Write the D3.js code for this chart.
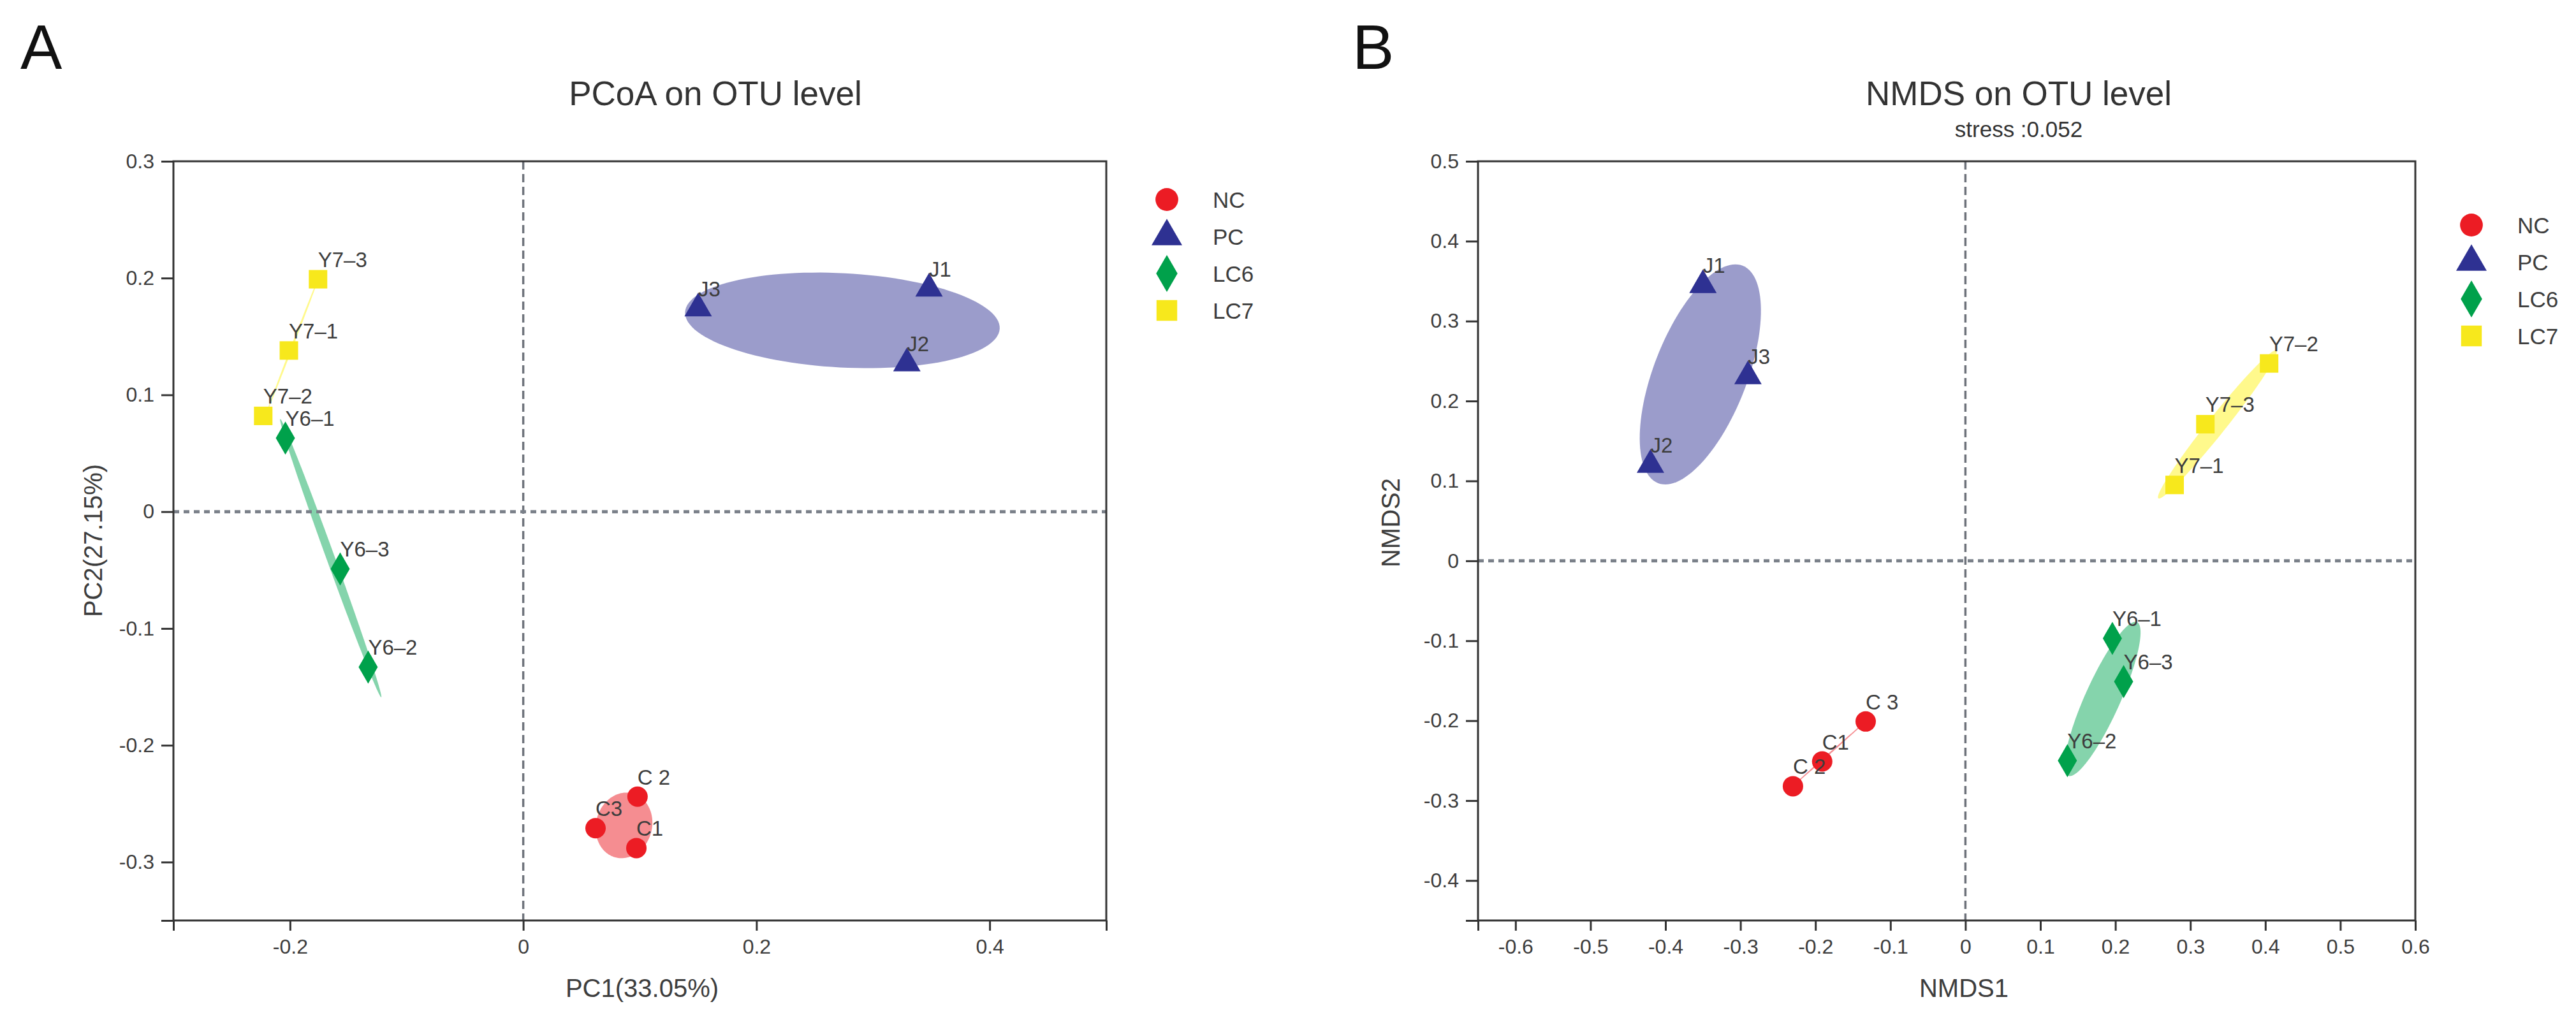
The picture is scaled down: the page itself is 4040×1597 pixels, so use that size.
<!DOCTYPE html>
<html lang="en">
<head>
  <meta charset="UTF-8">
  <title>PCoA and NMDS on OTU level</title>
  <script src="https://d3js.org/d3.v7.min.js"></script>
  <style type="text/css">
    body {
      margin: 0;
      background: white;
    }

    svg {
      display: block;
      font-family: "Liberation Sans", Arial, sans-serif;
    }
  </style>
</head>
<body>
  <script type="text/javascript">
    // Groups and sample order (same order in both panels)
    const groups = ["NC", "PC", "LC6", "LC7"];
    const sampleGroup = ["NC", "NC", "NC", "PC", "PC", "PC", "LC6", "LC6", "LC6", "LC7", "LC7", "LC7"];

    // Panel A - PCoA
    const pcoaLabels = ["C1", "C 2", "C3", "J1", "J2", "J3", "Y6–1", "Y6–2", "Y6–3", "Y7–1", "Y7–2", "Y7–3"];
    const pcoaPC1 = [0.097, 0.098, 0.062, 0.348, 0.329, 0.150, -0.204, -0.133, -0.157, -0.201, -0.223, -0.176];
    const pcoaPC2 = [-0.288, -0.244, -0.271, 0.191, 0.127, 0.174, 0.063, -0.133, -0.049, 0.138, 0.082, 0.199];
    const pcoaXTicks = [-0.2, 0, 0.2, 0.4];
    const pcoaYTicks = [0.3, 0.2, 0.1, 0, -0.1, -0.2, -0.3];
    // confidence ellipses: centre + two semi-axis vectors (data units)
    const pcoaEllipses = [
      { group: "NC", cx: 0.0864, cy: -0.2686, ux: 0.0074, uy: 0.0274, vx: 0.0232, vy: -0.0062 },
      { group: "PC", cx: 0.2737, cy: 0.1638, ux: 0.1349, uy: -0.0071, vx: -0.0021, vy: -0.0403 },
      { group: "LC6", cx: -0.1651, cy: -0.0398, ux: 0.0433, uy: -0.1191, vx: 0.0034, vy: 0.0012 },
      { group: "LC7", cx: -0.1974, cy: 0.1436, ux: 0.0230, uy: 0.0595, vx: 0.0008, vy: -0.0003 }
    ];

    // Panel B - NMDS
    const nmdsLabels = ["C1", "C 2", "C 3", "J1", "J2", "J3", "Y6–1", "Y6–2", "Y6–3", "Y7–1", "Y7–2", "Y7–3"];
    const nmds1 = [-0.191, -0.230, -0.133, -0.350, -0.420, -0.290, 0.196, 0.136, 0.211, 0.279, 0.405, 0.320];
    const nmds2 = [-0.251, -0.282, -0.201, 0.345, 0.120, 0.231, -0.097, -0.250, -0.151, 0.095, 0.247, 0.171];
    const nmdsXTicks = [-0.6, -0.5, -0.4, -0.3, -0.2, -0.1, 0, 0.1, 0.2, 0.3, 0.4, 0.5, 0.6];
    const nmdsYTicks = [0.5, 0.4, 0.3, 0.2, 0.1, 0, -0.1, -0.2, -0.3, -0.4];
    const nmdsEllipses = [
      { group: "NC", cx: -0.1815, cy: -0.2413, ux: 0.0485, uy: 0.0403, vx: 0.0007, vy: -0.0007 },
      { group: "PC", cx: -0.3535, cy: 0.2333, ux: 0.0563, uy: 0.1361, vx: 0.0580, vy: -0.0211 },
      { group: "LC6", cx: 0.1829, cy: -0.1728, ux: 0.0459, uy: 0.0961, vx: 0.0215, vy: -0.0090 },
      { group: "LC7", cx: 0.3360, cy: 0.1707, ux: 0.0787, uy: 0.0925, vx: 0.0093, vy: -0.0070 }
    ];
    const nmdsStress = 0.052;

    // Styles
    const pointColor = { NC: "#ec1c24", PC: "#2e3192", LC6: "#00a14b", LC7: "#f7e81c" };
    const ellipseColor = { NC: "#ec1c24", PC: "#2e3192", LC6: "#00a651", LC7: "#fff200" };
    const ellipseOpacity = { NC: 0.5, PC: 0.48, LC6: 0.48, LC7: 0.45 };
    const symbolType = { NC: d3.symbolCircle, PC: d3.symbolTriangle, LC6: d3.symbolDiamond, LC7: d3.symbolSquare };
    const symbolSize = { NC: 804, PC: 800, LC6: 780, LC7: 841 };
    const textColor = "#3d3d3d";
    const axisColor = "#333";

    let svg = d3.select("body").append("svg")
      .attr("width", 4040)
      .attr("height", 1597);

    let tickFmt = d => String(+d.toFixed(2));

    function ellipsePoints(e) {
      return d3.range(0, 361, 3).map(a => {
        let t = a * Math.PI / 180;
        return [e.cx + e.ux * Math.cos(t) + e.vx * Math.sin(t),
                e.cy + e.uy * Math.cos(t) + e.vy * Math.sin(t)];
      });
    }

    function drawPanel(p) {
      let x = d3.scaleLinear().domain(p.xDomain).range([p.left, p.right]);
      let y = d3.scaleLinear().domain(p.yDomain).range([p.bottom, p.top]);
      let g = svg.append("g");

      // ellipses
      let line = d3.line().x(d => x(d[0])).y(d => y(d[1])).curve(d3.curveLinearClosed);
      g.append("g")
        .selectAll("path")
        .data(p.ellipses)
        .enter()
        .append("path")
        .attr("d", e => line(ellipsePoints(e)))
        .attr("fill", e => ellipseColor[e.group])
        .attr("fill-opacity", e => ellipseOpacity[e.group])
        .attr("stroke", "none");

      // zero lines
      g.append("line")
        .attr("x1", x(0)).attr("x2", x(0))
        .attr("y1", p.top).attr("y2", p.bottom)
        .attr("stroke", "#6e737b")
        .attr("stroke-width", 3.5)
        .attr("stroke-dasharray", "13,7");
      g.append("line")
        .attr("x1", p.left).attr("x2", p.right)
        .attr("y1", y(0)).attr("y2", y(0))
        .attr("stroke", "#7a8089")
        .attr("stroke-width", 5)
        .attr("stroke-dasharray", "9,7");

      // axes
      let gx = g.append("g")
        .attr("transform", "translate(0," + p.bottom + ")")
        .call(d3.axisBottom(x).tickValues(p.xTicks).tickSize(16).tickPadding(13).tickFormat(tickFmt));
      let gxEnds = g.append("g")
        .attr("transform", "translate(0," + p.bottom + ")")
        .call(d3.axisBottom(x).tickValues(p.xDomain).tickSize(16).tickFormat(() => ""));
      let gy = g.append("g")
        .attr("transform", "translate(" + p.left + ",0)")
        .call(d3.axisLeft(y).tickValues(p.yTicks).tickSize(19).tickPadding(11).tickFormat(tickFmt));
      let gyEnds = g.append("g")
        .attr("transform", "translate(" + p.left + ",0)")
        .call(d3.axisLeft(y).tickValues(p.yDomain).tickSize(19).tickFormat(() => ""));
      [gx, gxEnds, gy, gyEnds].forEach(a => {
        a.select(".domain").remove();
        a.selectAll("line").attr("stroke", axisColor).attr("stroke-width", 3);
        a.selectAll("text")
          .attr("font-size", 32)
          .attr("fill", textColor)
          .attr("font-family", "Liberation Sans, Arial, sans-serif");
      });

      // frame
      g.append("rect")
        .attr("x", p.left)
        .attr("y", p.top)
        .attr("width", p.right - p.left)
        .attr("height", p.bottom - p.top)
        .attr("fill", "none")
        .attr("stroke", axisColor)
        .attr("stroke-width", 3);

      // points
      let idx = d3.range(p.px.length);
      g.append("g")
        .selectAll("path")
        .data(idx)
        .enter()
        .append("path")
        .attr("transform", i => "translate(" + x(p.px[i]) + "," + y(p.py[i]) + ")")
        .attr("d", i => d3.symbol().type(symbolType[sampleGroup[i]]).size(symbolSize[sampleGroup[i]])())
        .attr("fill", i => pointColor[sampleGroup[i]]);

      // sample labels
      g.append("g")
        .selectAll("text")
        .data(idx)
        .enter()
        .append("text")
        .attr("x", i => x(p.px[i]))
        .attr("y", i => y(p.py[i]) - 19)
        .attr("font-size", 33)
        .attr("fill", textColor)
        .text(i => p.labels[i]);

      // titles
      g.append("text")
        .attr("x", p.titleX)
        .attr("y", 165)
        .attr("text-anchor", "middle")
        .attr("font-size", 53)
        .attr("fill", "#333")
        .text(p.title);
      if (p.subtitle) {
        g.append("text")
          .attr("x", p.titleX)
          .attr("y", 215)
          .attr("text-anchor", "middle")
          .attr("font-size", 35)
          .attr("fill", "#333")
          .text(p.subtitle);
      }
      g.append("text")
        .attr("x", p.letterX)
        .attr("y", 108)
        .attr("font-size", 98)
        .attr("fill", "#111")
        .text(p.letter);

      // axis titles
      g.append("text")
        .attr("x", p.xTitleX)
        .attr("y", 1564)
        .attr("text-anchor", "middle")
        .attr("font-size", 40)
        .attr("fill", textColor)
        .text(p.xTitle);
      g.append("text")
        .attr("transform", "translate(" + p.yTitleX + "," + p.yTitleY + ") rotate(-90)")
        .attr("text-anchor", "middle")
        .attr("font-size", 40)
        .attr("fill", textColor)
        .text(p.yTitle);

      // legend
      let lg = g.append("g")
        .attr("transform", "translate(" + p.legendX + "," + p.legendY + ")");
      let item = lg.selectAll("g")
        .data(groups)
        .enter()
        .append("g")
        .attr("transform", (d, i) => "translate(0," + i * 58 + ")");
      item.append("path")
        .attr("d", d => d3.symbol().type(symbolType[d]).size(symbolSize[d] * 1.25)())
        .attr("fill", d => pointColor[d]);
      item.append("text")
        .attr("x", 72)
        .attr("dy", "0.36em")
        .attr("font-size", 35)
        .attr("fill", textColor)
        .text(d => d);
    }

    drawPanel({
      letter: "A", letterX: 32,
      title: "PCoA on OTU level", titleX: 1122,
      left: 272, right: 1735, top: 253, bottom: 1444,
      xDomain: [-0.3, 0.5], yDomain: [-0.35, 0.3],
      xTicks: pcoaXTicks, yTicks: pcoaYTicks,
      px: pcoaPC1, py: pcoaPC2, labels: pcoaLabels,
      ellipses: pcoaEllipses,
      xTitle: "PC1(33.05%)", xTitleX: 1007,
      yTitle: "PC2(27.15%)", yTitleX: 160, yTitleY: 848,
      legendX: 1830, legendY: 313
    });

    drawPanel({
      letter: "B", letterX: 2121,
      title: "NMDS on OTU level", titleX: 3166,
      subtitle: "stress :" + nmdsStress,
      left: 2318, right: 3788, top: 253, bottom: 1444,
      xDomain: [-0.65, 0.6], yDomain: [-0.45, 0.5],
      xTicks: nmdsXTicks, yTicks: nmdsYTicks,
      px: nmds1, py: nmds2, labels: nmdsLabels,
      ellipses: nmdsEllipses,
      xTitle: "NMDS1", xTitleX: 3080,
      yTitle: "NMDS2", yTitleX: 2195, yTitleY: 820,
      legendX: 3876, legendY: 353
    });
  </script>
</body>
</html>
